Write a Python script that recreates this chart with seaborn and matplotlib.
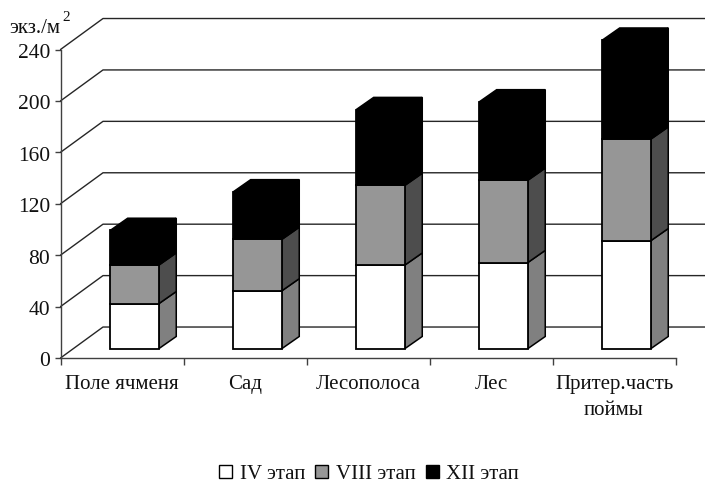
import matplotlib
matplotlib.use('Agg')
import numpy as np
import matplotlib.pyplot as plt
import seaborn as sns
from matplotlib.patches import Patch, Polygon
from matplotlib.transforms import Affine2D

categories = ['Поле ячменя', 'Сад', 'Лесополоса', 'Лес', 'Притер.часть\nпоймы']
stage_iv = [35, 45, 65, 67, 84]
stage_viii = [30, 40, 62, 64, 79]
stage_xii = [27, 37, 59, 61, 77]
series_names = ['IV этап', 'VIII этап', 'XII этап']
y_ticks = [0, 40, 80, 120, 160, 200, 240]

sns.set_theme(style='white')
plt.rcParams['font.family'] = ['Liberation Serif', 'DejaVu Serif']

W, H = 705, 483
fig = plt.figure(figsize=(W / 100, H / 100), dpi=100)
# front plane of the fake 3d box, in pixels
ax = fig.add_axes([60.5 / W, 1 - 358 / H, 615 / W, 308.5 / H])

# depth offsets in data units (x: categories, y: values)
wall_dx, wall_dy = 0.3455, 24.1
bar_dx, bar_dy = 0.1016, 7.24
depth_dx, depth_dy = 0.142, 9.5

face_colors = ['white', '#969696', 'black']
side_colors = ['#808080', '#4d4d4d', 'black']
values = [stage_iv, stage_viii, stage_xii]

# gridlines on the back wall and the left wall
for t in y_ticks:
    ax.plot([-0.5, -0.5 + wall_dx, 4.5 + wall_dx], [t, t + wall_dy, t + wall_dy],
            color='#262626', lw=1, clip_on=False, zorder=1)

bottom = np.zeros(len(categories))
for vals, face, side in zip(values, face_colors, side_colors):
    n_before = len(ax.patches)
    sns.barplot(x=categories, y=vals, bottom=bottom, color=face, saturation=1,
                width=0.395, errorbar=None, edgecolor='black', linewidth=1.3, ax=ax,
                zorder=3, clip_on=False)
    for rect in ax.patches[n_before:]:
        rect.set_x(rect.get_x() + bar_dx)
        rect.set_y(rect.get_y() + bar_dy)
        x1 = rect.get_x() + rect.get_width()
        y0 = rect.get_y()
        y1 = y0 + rect.get_height()
        ax.add_artist(Polygon([(x1, y0), (x1 + depth_dx, y0 + depth_dy),
                               (x1 + depth_dx, y1 + depth_dy), (x1, y1)],
                              facecolor=side, edgecolor='black', lw=1.1, zorder=2.5, clip_on=False))
        # only the top of the stack shows its lid
        if face == 'black':
            x0 = rect.get_x()
            ax.add_artist(Polygon([(x0, y1), (x0 + depth_dx, y1 + depth_dy),
                                   (x1 + depth_dx, y1 + depth_dy), (x1, y1)],
                                  facecolor='black', edgecolor='black', lw=1.1, zorder=2.5, clip_on=False))
    bottom = bottom + np.array(vals)

ax.set_xlim(-0.5, 4.5)
ax.set_ylim(0, 240)
ax.set_yticks(y_ticks)
ax.tick_params(axis='y', left=True, length=4, width=1, color='#404040', pad=3.5, labelsize=15.5, labelcolor='#111111')
for lab in ax.get_yticklabels():
    lab.set_transform(lab.get_transform() + Affine2D().translate(0, -1.5))
ax.set_xticks(np.arange(-0.5, 5, 1))
ax.set_xticklabels([])
ax.set_xticks(range(5), categories, minor=True, linespacing=1.5)
ax.tick_params(axis='x', which='major', bottom=True, length=5, width=1, color='#404040')
ax.tick_params(axis='x', which='minor', bottom=False, length=0, pad=12, labelsize=15, labelcolor='#111111')
ax.set_ylabel('')
ax.patch.set_alpha(0)
for s in ['top', 'right']:
    ax.spines[s].set_visible(False)
for s in ['left', 'bottom']:
    ax.spines[s].set_color('#404040')
    ax.spines[s].set_linewidth(1)

fig.text(9 / W, 1 - 33 / H, 'экз./м', fontsize=15, color='#111111', va='baseline')
fig.text(62 / W, 1 - 21 / H, '2', fontsize=11, color='#111111', va='baseline')

handles = [Patch(facecolor=c, edgecolor='black', linewidth=1, label=n)
           for c, n in zip(face_colors, series_names)]
fig.legend(handles=handles, ncol=3, frameon=False, loc='center', bbox_to_anchor=(369 / W, 1 - 474.5 / H),
           fontsize=15, handlelength=0.62, handleheight=0.62, handletextpad=0.35, columnspacing=0.5,
           labelcolor='#111111', borderpad=0)

fig.savefig('out.png', dpi=100)
